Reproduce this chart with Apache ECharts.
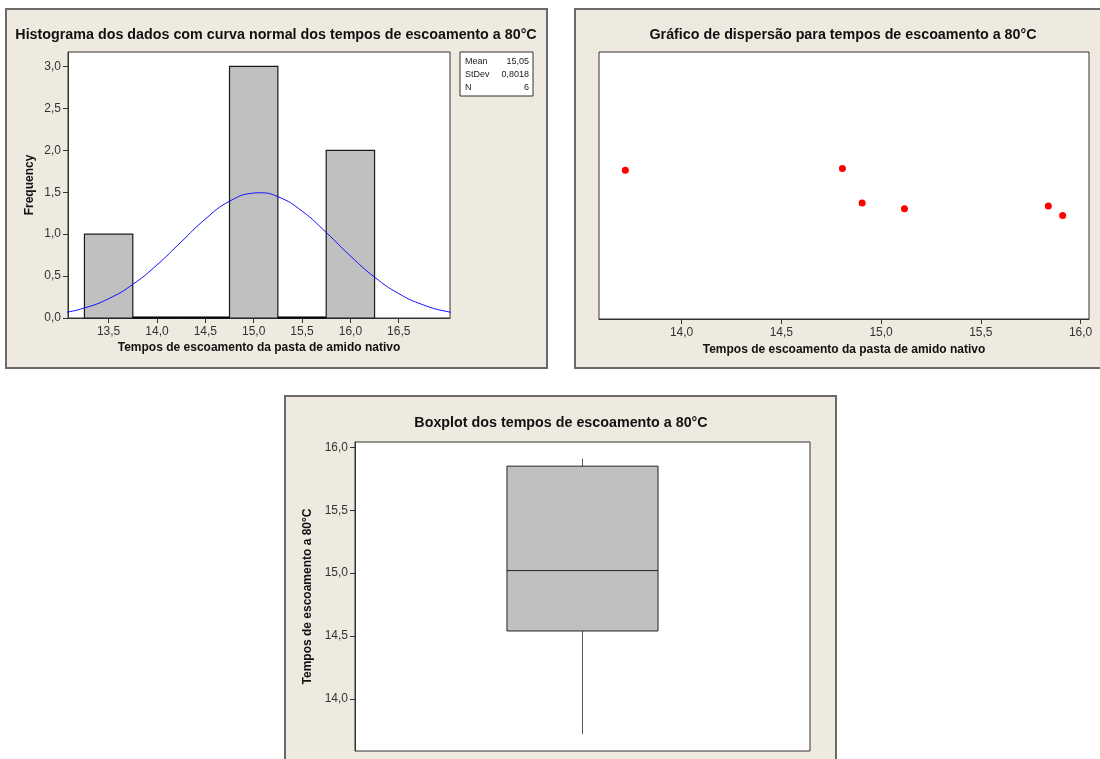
<!DOCTYPE html>
<html><head><meta charset="utf-8">
<script src="https://cdn.jsdelivr.net/npm/echarts@6/dist/echarts.min.js"></script>
<style>html,body{margin:0;padding:0;background:#fff}#c{width:1100px;height:759px}</style>
</head><body><div id="c"></div><script>
// ---- data ----
const binCenters = [13.5, 14.0, 14.5, 15.0, 15.5, 16.0];
const binCounts = [1, 0, 0, 3, 0, 2];
const binWidth = 0.5;
const curveX = [12.75, 13.0, 13.25, 13.5, 13.75, 14.0, 14.25, 14.5, 14.75, 15.0, 15.05, 15.25, 15.5, 15.75, 16.0, 16.25, 16.5, 16.75, 17.0, 17.25];
const curveY = [0.024, 0.057, 0.120, 0.230, 0.401, 0.633, 0.907, 1.180, 1.392, 1.490, 1.493, 1.447, 1.275, 1.020, 0.740, 0.487, 0.291, 0.158, 0.077, 0.035];
const histXTicks = [13.5, 14.0, 14.5, 15.0, 15.5, 16.0, 16.5];
const histYTicks = [0, 0.5, 1.0, 1.5, 2.0, 2.5, 3.0];
const statsLabels = ['Mean', 'StDev', 'N'];
const statsValues = ['15,05', '0,8018', '6'];
const times = [13.718, 14.806, 14.905, 15.117, 15.838, 15.910];
const scatterY = [0.557, 0.564, 0.434, 0.413, 0.423, 0.388];
const scatterXTicks = [14.0, 14.5, 15.0, 15.5, 16.0];
const boxStats = [13.72, 14.54, 15.02, 15.85, 15.91]; // min, Q1, median, Q3, max
const boxYTicks = [14.0, 14.5, 15.0, 15.5, 16.0];

const titles = [
  'Histograma dos dados com curva normal dos tempos de escoamento a 80°C',
  'Gráfico de dispersão para tempos de escoamento a 80°C',
  'Boxplot dos tempos de escoamento a 80°C'
];
const xName = 'Tempos de escoamento da pasta de amido nativo';
const histYName = 'Frequency';
const boxYName = 'Tempos de escoamento a 80°C';

// ---- styles ----
const FONT = '"Liberation Sans", Arial, sans-serif';
const PANEL_BG = '#EEEAE0';
const fmt = v => Number(v).toFixed(1).replace('.', ',');

function axisCommon(ticks, margin) {
  return {
    axisLine: { show: true, onZero: false, lineStyle: { color: '#333', width: 1 } },
    axisTick: { show: true, length: 5, inside: false, lineStyle: { color: '#333' }, customValues: ticks },
    axisLabel: { show: true, color: '#333', fontFamily: FONT, fontSize: 12, margin: margin, formatter: fmt, customValues: ticks },
    splitLine: { show: false }
  };
}
const nameStyle = { fontFamily: FONT, fontSize: 12, fontWeight: 'bold', color: '#111' };

const chart = echarts.init(document.getElementById('c'), null, { renderer: 'canvas' });

const panelRects = [
  { x: 6, y: 9, w: 541, h: 359 },
  { x: 575, y: 9, w: 545, h: 359 },
  { x: 285, y: 396, w: 551, h: 380 }
];
const titlePos = [[276, 35], [843, 35], [561, 423]];

const graphics = [];
panelRects.forEach(p => graphics.push({
  type: 'rect', z: -10, silent: true,
  shape: { x: p.x, y: p.y, width: p.w, height: p.h },
  style: { fill: PANEL_BG, stroke: '#6a6a6a', lineWidth: 2 }
}));
titles.forEach((t, i) => graphics.push({
  type: 'text', silent: true, x: titlePos[i][0], y: titlePos[i][1],
  style: { text: t, font: 'bold 14.3px ' + FONT, fill: '#111', textAlign: 'center', textVerticalAlign: 'middle' }
}));
// stats box
graphics.push({ type: 'rect', silent: true, shape: { x: 460, y: 52, width: 73, height: 44 },
  style: { fill: '#fff', stroke: '#333', lineWidth: 1 } });
statsLabels.forEach((l, i) => {
  graphics.push({ type: 'text', silent: true, x: 465, y: 62 + i * 13,
    style: { text: l, font: '9px ' + FONT, fill: '#222', textAlign: 'left', textVerticalAlign: 'middle' } });
  graphics.push({ type: 'text', silent: true, x: 529, y: 62 + i * 13,
    style: { text: statsValues[i], font: '9px ' + FONT, fill: '#222', textAlign: 'right', textVerticalAlign: 'middle' } });
});

const option = {
  animation: false,
  backgroundColor: '#fff',
  graphic: { elements: graphics },
  grid: [
    { left: 68, top: 52, width: 382, height: 266, show: true, backgroundColor: '#fff', borderColor: '#333', borderWidth: 1 },
    { left: 599, top: 52, width: 490, height: 267, show: true, backgroundColor: '#fff', borderColor: '#333', borderWidth: 1 },
    { left: 355, top: 442, width: 455, height: 309, show: true, backgroundColor: '#fff', borderColor: '#333', borderWidth: 1 }
  ],
  xAxis: [
    Object.assign({ type: 'value', gridIndex: 0, min: 13.08, max: 17.03,
      name: xName, nameLocation: 'middle', nameGap: 24, nameTextStyle: nameStyle }, axisCommon(histXTicks, 8)),
    Object.assign({ type: 'value', gridIndex: 1, min: 13.586, max: 16.042,
      name: xName, nameLocation: 'middle', nameGap: 25, nameTextStyle: nameStyle }, axisCommon(scatterXTicks, 8)),
    { type: 'value', gridIndex: 2, min: -1, max: 1, show: false }
  ],
  yAxis: [
    Object.assign({ type: 'value', gridIndex: 0, min: 0, max: 3.172,
      name: histYName, nameLocation: 'middle', nameGap: 32, nameRotate: 90, nameTextStyle: nameStyle }, axisCommon(histYTicks, 7)),
    { type: 'value', gridIndex: 1, min: 0, max: 1, show: false },
    Object.assign({ type: 'value', gridIndex: 2, min: 13.586, max: 16.042,
      name: boxYName, nameLocation: 'middle', nameGap: 41, nameRotate: 90, nameTextStyle: nameStyle }, axisCommon(boxYTicks, 7))
  ],
  series: [
    {
      type: 'custom', xAxisIndex: 0, yAxisIndex: 0, z: 2,
      data: binCenters.map((c, i) => [c, binCounts[i]]),
      renderItem: function (params, api) {
        const c = api.value(0), n = api.value(1);
        const p0 = api.coord([c - binWidth / 2, n]);
        const p1 = api.coord([c + binWidth / 2, 0]);
        const h = p1[1] - p0[1];
        if (h < 1) {
          return { type: 'line', shape: { x1: p0[0], y1: p1[1] - 0.5, x2: p1[0], y2: p1[1] - 0.5 },
            style: { stroke: '#000', lineWidth: 2 } };
        }
        return { type: 'rect',
          shape: { x: p0[0], y: p0[1], width: p1[0] - p0[0], height: h },
          style: { fill: '#c0c0c0', stroke: '#1a1a1a', lineWidth: 1.2 } };
      }
    },
    {
      type: 'line', xAxisIndex: 0, yAxisIndex: 0, z: 3, smooth: true, showSymbol: false, clip: true,
      data: curveX.map((x, i) => [x, curveY[i]]),
      lineStyle: { color: '#1010ff', width: 1 }
    },
    {
      type: 'scatter', xAxisIndex: 1, yAxisIndex: 1, symbolSize: 7,
      data: times.map((t, i) => [t, scatterY[i]]),
      itemStyle: { color: '#ff0000', opacity: 1 }
    },
    {
      type: 'custom', xAxisIndex: 2, yAxisIndex: 2,
      data: [[0].concat(boxStats)],
      renderItem: function (params, api) {
        const x = api.value(0);
        const mn = api.value(1), q1 = api.value(2), md = api.value(3), q3 = api.value(4), mx = api.value(5);
        const hw = 0.332;
        const tl = api.coord([x - hw, q3]);
        const br = api.coord([x + hw, q1]);
        const cMax = api.coord([x, mx]);
        const cMin = api.coord([x, mn]);
        const cQ3 = api.coord([x, q3]);
        const cQ1 = api.coord([x, q1]);
        const mL = api.coord([x - hw, md]);
        const mR = api.coord([x + hw, md]);
        return { type: 'group', children: [
          { type: 'line', shape: { x1: cMax[0], y1: cMax[1], x2: cQ3[0], y2: cQ3[1] }, style: { stroke: '#555', lineWidth: 1 } },
          { type: 'line', shape: { x1: cQ1[0], y1: cQ1[1], x2: cMin[0], y2: cMin[1] }, style: { stroke: '#555', lineWidth: 1 } },
          { type: 'rect', shape: { x: tl[0], y: tl[1], width: br[0] - tl[0], height: br[1] - tl[1] },
            style: { fill: '#c0c0c0', stroke: '#222', lineWidth: 1 } },
          { type: 'line', shape: { x1: mL[0], y1: mL[1], x2: mR[0], y2: mR[1] }, style: { stroke: '#222', lineWidth: 1 } }
        ] };
      }
    }
  ]
};
chart.setOption(option);
</script></body></html>
